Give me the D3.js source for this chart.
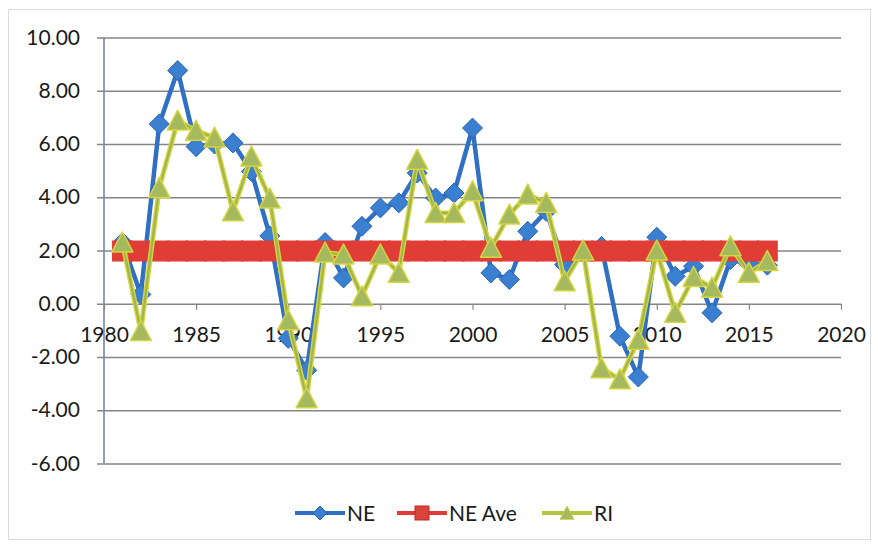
<!DOCTYPE html>
<html>
<head>
<meta charset="utf-8">
<script src="https://cdn.jsdelivr.net/npm/d3@7/dist/d3.min.js"></script>
<style>
  html, body { margin: 0; padding: 0; background: #fff; }
  svg { display: block; font-family: Lato, "Open Sans", sans-serif; }
</style>
</head>
<body>
<svg id="chart" width="878" height="548"></svg>
<script>
// Annual series, 1981-2016
const years = [1981, 1982, 1983, 1984, 1985, 1986, 1987, 1988, 1989, 1990,
               1991, 1992, 1993, 1994, 1995, 1996, 1997, 1998, 1999, 2000,
               2001, 2002, 2003, 2004, 2005, 2006, 2007, 2008, 2009, 2010,
               2011, 2012, 2013, 2014, 2015, 2016];

const neValues = [2.30, 0.35, 6.75, 8.76, 5.90, 6.00, 6.04, 4.97, 2.55, -1.30,
                  -2.50, 2.30, 0.97, 2.91, 3.60, 3.79, 4.91, 3.97, 4.16, 6.60,
                  1.16, 0.91, 2.72, 3.47, 1.47, 1.95, 2.15, -1.22, -2.75, 2.50,
                  1.03, 1.41, -0.34, 1.66, 1.50, 1.45];

const neAveValues = [1.98, 1.98, 1.98, 1.98, 1.98, 1.98, 1.98, 1.98, 1.98, 1.98,
                     1.98, 1.98, 1.98, 1.98, 1.98, 1.98, 1.98, 1.98, 1.98, 1.98,
                     1.98, 1.98, 1.98, 1.98, 1.98, 1.98, 1.98, 1.98, 1.98, 1.98,
                     1.98, 1.98, 1.98, 1.98, 1.98, 1.98];

const riValues = [2.30, -1.03, 4.35, 6.88, 6.50, 6.24, 3.47, 5.53, 3.95, -0.62,
                  -3.55, 1.92, 1.85, 0.28, 1.85, 1.16, 5.41, 3.41, 3.41, 4.22,
                  2.10, 3.35, 4.10, 3.79, 0.84, 2.00, -2.42, -2.84, -1.35, 2.00,
                  -0.34, 1.00, 0.60, 2.16, 1.16, 1.60];

const xTicks = [1980, 1985, 1990, 1995, 2000, 2005, 2010, 2015, 2020];
const yTicks = [-6, -4, -2, 0, 2, 4, 6, 8, 10];
const seriesNames = ["NE", "NE Ave", "RI"];

const svg = d3.select("#chart");

// chart frame
svg.append("rect")
  .attr("x", 8.5).attr("y", 9.5)
  .attr("width", 862).attr("height", 530)
  .attr("fill", "#fff")
  .attr("stroke", "#d9dbe3").attr("stroke-width", 1);

const plot = { left: 104, right: 841, top: 37.5, bottom: 463.5 };

const x = d3.scaleLinear().domain([1980, 2020]).range([plot.left, plot.right]);
const y = d3.scaleLinear().domain([-6, 10]).range([plot.bottom, plot.top]);

// value labels with a plain hyphen for negatives
const fmt2 = d => (d < 0 ? "-" : "") + Math.abs(d).toFixed(2);

// horizontal gridlines with value labels
const gy = svg.append("g")
  .attr("transform", `translate(${plot.left - 7},0)`)
  .call(d3.axisLeft(y)
    .tickValues(yTicks)
    .tickSize(-(plot.right - plot.left) - 7)
    .tickPadding(17)
    .tickFormat(fmt2));
gy.select(".domain").remove();
gy.selectAll(".tick line")
  .attr("stroke", "#858585").attr("stroke-width", 1.4);
gy.selectAll(".tick text")
  .attr("fill", "#1a1a1a")
  .style("font-size", "21px")
  .style("font-family", "Lato, 'Open Sans', sans-serif");

// vertical value axis line
svg.append("line")
  .attr("x1", plot.left).attr("x2", plot.left)
  .attr("y1", plot.top).attr("y2", plot.bottom)
  .attr("stroke", "#7487a8").attr("stroke-width", 1.6);

// year axis crossing at zero
const gx = svg.append("g")
  .attr("transform", `translate(0,${y(0)})`)
  .call(d3.axisBottom(x)
    .tickValues(xTicks)
    .tickSize(6)
    .tickPadding(17)
    .tickFormat(d3.format("d")));
gx.select(".domain").remove();
gx.selectAll(".tick line").attr("stroke", "#858585").attr("stroke-width", 1.2);
gx.selectAll(".tick text")
  .attr("fill", "#1a1a1a")
  .style("font-size", "21px")
  .style("font-family", "Lato, 'Open Sans', sans-serif");

const line = d3.line()
  .x((d, i) => x(years[i]))
  .y(d => y(d));

const diamond = (s) => `M0,${-s}L${s},0L0,${s}L${-s},0Z`;
const triangle = (s) => `M0,${-s}L${s},${s * 0.9}L${-s},${s * 0.9}Z`;

// NE series
svg.append("path")
  .datum(neValues)
  .attr("d", line)
  .attr("fill", "none")
  .attr("stroke", "#2f70c4").attr("stroke-width", 4.5)
  .attr("stroke-linejoin", "round");
svg.append("g").selectAll("path")
  .data(neValues)
  .join("path")
  .attr("transform", (d, i) => `translate(${x(years[i])},${y(d)})`)
  .attr("d", diamond(10))
  .attr("fill", "#3b7fd0").attr("stroke", "#2a66b3").attr("stroke-width", 1);

// NE average
svg.append("path")
  .datum(neAveValues)
  .attr("d", line)
  .attr("fill", "none")
  .attr("stroke", "#df3d35").attr("stroke-width", 20);
svg.append("g").selectAll("rect")
  .data(neAveValues)
  .join("rect")
  .attr("x", (d, i) => x(years[i]) - 10.5)
  .attr("y", d => y(d) - 10.5)
  .attr("width", 21).attr("height", 21)
  .attr("fill", "#df3d35");

// RI series
svg.append("path")
  .datum(riValues)
  .attr("d", line)
  .attr("fill", "none")
  .attr("stroke", "#d9d63c").attr("stroke-width", 5)
  .attr("stroke-linejoin", "round");
svg.append("path")
  .datum(riValues)
  .attr("d", line)
  .attr("fill", "none")
  .attr("stroke", "#9db553").attr("stroke-width", 2.2)
  .attr("stroke-linejoin", "round");
svg.append("g").selectAll("path")
  .data(riValues)
  .join("path")
  .attr("transform", (d, i) => `translate(${x(years[i])},${y(d)})`)
  .attr("d", triangle(10.5))
  .attr("fill", "#a5b95e").attr("stroke", "#d6d540").attr("stroke-width", 1.5)
  .attr("stroke-linejoin", "round");

// legend
const legendY = 513;
const legendItems = [
  { name: seriesNames[0], x0: 295 },
  { name: seriesNames[1], x0: 397 },
  { name: seriesNames[2], x0: 542 }
];
const lg = svg.append("g");
legendItems.forEach((it, k) => {
  const cx = it.x0 + 25;
  if (k === 0) {
    lg.append("line").attr("x1", it.x0).attr("x2", it.x0 + 50)
      .attr("y1", legendY).attr("y2", legendY)
      .attr("stroke", "#2f70c4").attr("stroke-width", 4);
    lg.append("path").attr("transform", `translate(${cx},${legendY})`)
      .attr("d", diamond(7)).attr("fill", "#3b7fd0").attr("stroke", "#2a66b3");
  } else if (k === 1) {
    lg.append("line").attr("x1", it.x0).attr("x2", it.x0 + 50)
      .attr("y1", legendY).attr("y2", legendY)
      .attr("stroke", "#df3b34").attr("stroke-width", 4);
    lg.append("rect").attr("x", cx - 7).attr("y", legendY - 7)
      .attr("width", 14).attr("height", 14)
      .attr("fill", "#d8433a").attr("stroke", "#c22b26");
  } else {
    lg.append("line").attr("x1", it.x0).attr("x2", it.x0 + 50)
      .attr("y1", legendY).attr("y2", legendY)
      .attr("stroke", "#b4c440").attr("stroke-width", 4);
    lg.append("path").attr("transform", `translate(${cx},${legendY})`)
      .attr("d", triangle(7)).attr("fill", "#a5b95e").attr("stroke", "#c9cf45");
  }
  lg.append("text")
    .attr("x", it.x0 + 52).attr("y", legendY)
    .attr("dy", "0.36em")
    .attr("fill", "#1a1a1a")
    .style("font-size", "21px")
    .text(it.name);
});
</script>
</body>
</html>
